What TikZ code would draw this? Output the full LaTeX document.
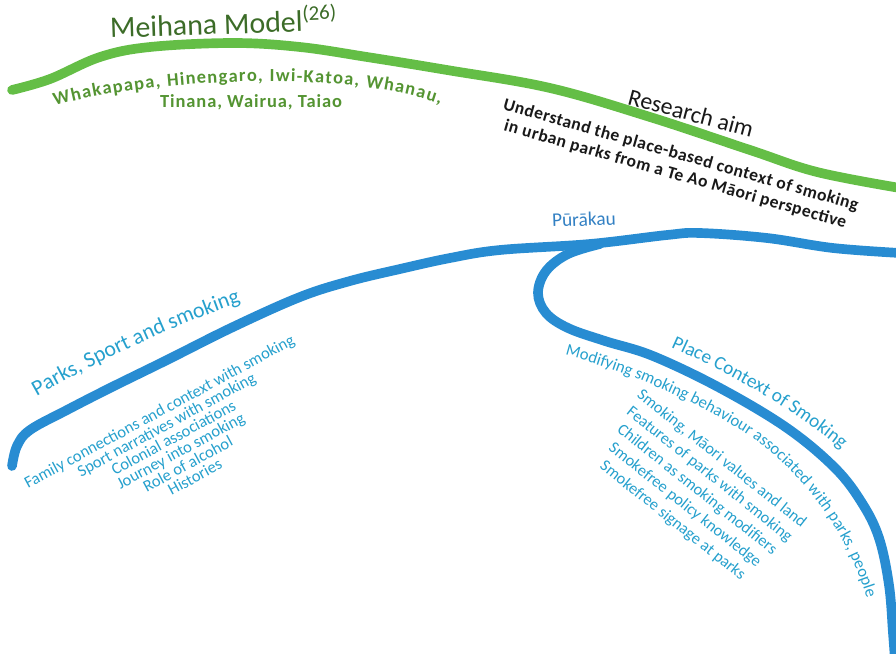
\documentclass[tikz,border=0pt]{standalone}
\usepackage{fontspec}
\setmainfont{Carlito}
\usetikzlibrary{decorations.text}
\definecolor{leafgreen}{RGB}{100,190,70}
\definecolor{mossgreen}{RGB}{84,148,50}
\definecolor{darkmoss}{RGB}{60,108,40}
\definecolor{riverblue}{RGB}{40,140,210}
\definecolor{skyblue}{RGB}{38,160,205}
\definecolor{deepblue}{RGB}{50,128,195}
\definecolor{inkblack}{RGB}{25,25,25}
\tikzset{
    crayon/.style={line width=5.5pt, line cap=round, line join=round},
    greenstrand/.style={crayon, draw=leafgreen},
    bluestrand/.style={crayon, draw=riverblue},
    title/.style={inner sep=0pt, font=\fontsize{17}{19}\selectfont},
    greenlist/.style={inner sep=0pt, text=mossgreen,
        font=\bfseries\fontsize{10.5}{12}\selectfont\addfontfeature{LetterSpace=5}},
    aimtext/.style={inner sep=0pt, text=inkblack, align=center,
        font=\bfseries\fontsize{10}{11.5}\selectfont\addfontfeature{LetterSpace=3}},
    bluelist/.style={inner sep=0pt, text=skyblue, align=center}
}

\begin{document}
\begin{tikzpicture}[x=0.02cm, y=-0.02cm]
\useasboundingbox (0,0) rectangle (896,653);

% Meihana model strand
\draw[greenstrand] plot[smooth, tension=0.6] coordinates {(12,90) (50,79) (100,57) (150,47)
    (233,43) (300,47) (367,57) (447,70) (550,88) (650,117) (750,150) (817,172) (900,188)};
\node[title, text=darkmoss, anchor=base west, rotate=2] (meihana) at (110,38)
    {Meihana Model\textsuperscript{(26)}};
\path[decorate, decoration={text along path, text align=fit to path,
    text={|\bfseries\fontsize{10.5}{12}\selectfont\color{mossgreen}|Whakapapa, Hinengaro, Iwi-Katoa, Whanau,}}]
    (55,106) .. controls (150,78) and (350,70) .. (440,104);
\node[greenlist, anchor=base] (values) at (251,107) {Tinana, Wairua, Taiao};

% research aim
\node[title, font=\fontsize{13.5}{15}\selectfont, text=inkblack, rotate=-15] (aimhead) at (691,113) {Research aim};
\node[aimtext, rotate=-16] (aim) at (678,165)
    {Understand the place-based context of smoking\\in urban parks from a Te Ao Māori perspective};

% Purakau strand and its loop
\draw[bluestrand] plot[smooth, tension=0.6] coordinates {(12,466) (17,446) (30,430) (67,410)
    (110,388) (167,360) (233,327) (300,297) (350,281) (400,269) (450,258) (500,250)
    (590,244) (667,235) (700,233) (767,238) (833,248) (900,253)};
\draw[bluestrand] plot[smooth, tension=0.6] coordinates {(600,244) (568,254) (546,271)
    (538,293) (546,313) (568,328) (605,341) (653,356) (720,388) (787,428) (835,468)
    (862,503) (879,538) (889,585) (893,633) (895,660)};
\node[inner sep=0pt, text=deepblue, font=\fontsize{11}{13}\selectfont, anchor=base west, rotate=2]
    (purakau) at (552,227) {Pūrākau};

% parks and sport
\path[decorate, decoration={text along path, text align=center,
    text={|\fontsize{12.5}{14}\selectfont\color{skyblue}|Parks, Sport and smoking}}]
    (30,400) .. controls (90,366) and (160,330) .. (248,300);
\node[bluelist, font=\fontsize{9.4}{8.5}\selectfont, rotate=28.5] (parks) at (177,444)
    {Family connections and context with smoking\\Sport narratives with smoking\\
     Colonial associations\\Journey into smoking\\Role of alcohol\\Histories};

% place context
\path[decorate, decoration={text along path, text align=center,
    text={|\fontsize{11}{13}\selectfont\color{skyblue}|Place Context of Smoking}}]
    (655,340) .. controls (720,368) and (790,405) .. (855,460);
\path[decorate, decoration={text along path, text align=center,
    text={|\fontsize{9.5}{11}\selectfont\color{skyblue}|Modifying smoking behaviour associated with parks, people}}]
    (545,350) .. controls (610,365) and (680,393) .. (740,430)
    .. controls (794,463) and (852,530) .. (872,618);
\node[bluelist, font=\fontsize{9.3}{11.2}\selectfont, rotate=-38.5] (place) at (697,490)
    {Smoking, Māori values and land\\Features of parks with smoking\\Children as smoking modifiers\\
     Smokefree policy knowledge\\Smokefree signage at parks};

\end{tikzpicture}
\end{document}
